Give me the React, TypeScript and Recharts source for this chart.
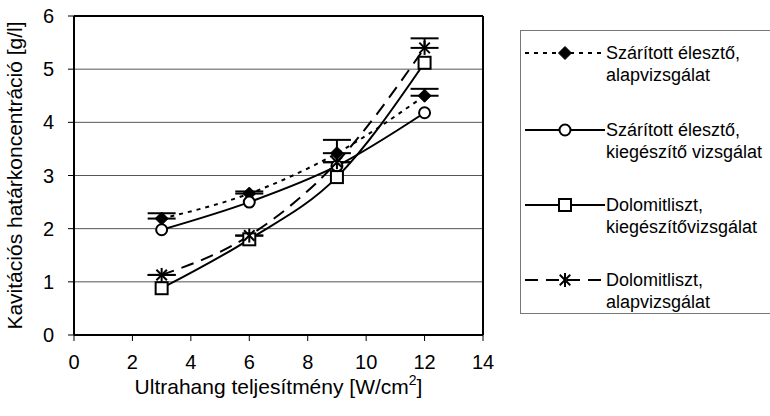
import React from "react";
import {
  LineChart,
  Line,
  XAxis,
  YAxis,
  CartesianGrid,
  ErrorBar,
  ReferenceLine,
  Label,
} from "recharts";

const xValues = [3, 6, 9, 12];
const xTicks = [0, 2, 4, 6, 8, 10, 12, 14];
const yTicks = [0, 1, 2, 3, 4, 5, 6];

const seriesNames = [
  ["Szárított élesztő,", "alapvizsgálat"],
  ["Szárított élesztő,", "kiegészítő vizsgálat"],
  ["Dolomitliszt,", "kiegészítővizsgálat"],
  ["Dolomitliszt,", "alapvizsgálat"],
];

const s1Values = [2.19, 2.66, 3.42, 4.5];
const s1Errors = [0.1, 0.04, 0.25, 0.13];
const s2Values = [1.98, 2.5, 3.18, 4.18];
const s3Values = [0.88, 1.8, 2.97, 5.12];
const s4Values = [1.13, 1.87, 3.25, 5.4];
const s4Errors = [0, 0, 0, 0.18];

const xTitle = "Ultrahang teljesítmény [W/cm";
const yTitle = "Kavitációs határkoncentráció [g/l]";

const data = xValues.map((x, i) => ({
  x,
  s1: s1Values[i],
  s1e: [0, s1Errors[i]],
  s2: s2Values[i],
  s3: s3Values[i],
  s4: s4Values[i],
  s4e: [0, s4Errors[i]],
}));

const FONT = "'Liberation Sans', Arial, sans-serif";

type Marker = "diamond" | "circle" | "square" | "star";

const drawMarker = (kind: Marker, cx: number, cy: number, key?: any) => {
  if (kind === "diamond") {
    const s = 6.5;
    return (
      <path
        key={key}
        d={`M${cx},${cy - s}L${cx + s},${cy}L${cx},${cy + s}L${cx - s},${cy}Z`}
        fill="#000"
        stroke="#000"
        strokeWidth={1}
      />
    );
  }
  if (kind === "circle") {
    return <circle key={key} cx={cx} cy={cy} r={5.5} fill="#fff" stroke="#000" strokeWidth={2} />;
  }
  if (kind === "square") {
    const s = 6;
    return (
      <rect key={key} x={cx - s} y={cy - s} width={2 * s} height={2 * s} fill="#fff" stroke="#000" strokeWidth={2} />
    );
  }
  const r = 7;
  const d = r * 0.75;
  return (
    <g key={key} stroke="#000" strokeWidth={2}>
      <line x1={cx - d} y1={cy - d} x2={cx + d} y2={cy + d} />
      <line x1={cx - d} y1={cy + d} x2={cx + d} y2={cy - d} />
      <line x1={cx} y1={cy - r} x2={cx} y2={cy + r} />
    </g>
  );
};

const dotFor = (kind: Marker) => (props: any) => {
  const { cx, cy, index } = props;
  if (cx == null || cy == null) return <g key={`n${index}`} />;
  return drawMarker(kind, cx, cy, `${kind}${index}`);
};

const seriesStyles: { key: string; marker: Marker; dash?: string; width: number }[] = [
  { key: "s1", marker: "diamond", dash: "4 5", width: 2 },
  { key: "s2", marker: "circle", width: 2 },
  { key: "s3", marker: "square", width: 2 },
  { key: "s4", marker: "star", dash: "13 8", width: 2 },
];

const LegendBox = () => {
  const rowCenters = [22, 99, 174, 249];
  return (
    <div
      style={{
        position: "absolute",
        left: 520,
        top: 30,
        width: 252,
        height: 284,
        border: "1px solid #777",
        boxSizing: "border-box",
        background: "#fff",
        fontFamily: FONT,
        fontSize: 18,
        color: "#000",
      }}
    >
      {seriesStyles.map((s, i) => (
        <div key={s.key} style={{ position: "absolute", left: 0, top: rowCenters[i] - 11 }}>
          <svg width={84} height={22} style={{ position: "absolute", left: 4, top: 0 }}>
            <line x1={0} y1={11} x2={80} y2={11} stroke="#000" strokeWidth={2} strokeDasharray={s.dash} />
            {drawMarker(s.marker, 40, 11)}
          </svg>
          <div
            style={{
              position: "absolute",
              left: 85,
              top: 0,
              lineHeight: "22px",
              whiteSpace: "nowrap",
            }}
          >
            {seriesNames[i][0]}
            <br />
            {seriesNames[i][1]}
          </div>
        </div>
      ))}
    </div>
  );
};

export default function App() {
  return (
    <div style={{ position: "absolute", left: 0, top: 0, width: 770, height: 416, background: "#fff" }}>
      <LineChart
        width={770}
        height={416}
        data={data}
        margin={{ top: 16, right: 287, left: 0, bottom: 0 }}
        style={{ fontFamily: FONT }}
      >
        <CartesianGrid horizontal vertical={false} stroke="#555" strokeWidth={1} />
        <XAxis
          type="number"
          dataKey="x"
          domain={[0, 14]}
          ticks={xTicks}
          height={81}
          tickSize={6}
          tickMargin={14}
          axisLine={{ stroke: "#000", strokeWidth: 2 }}
          tickLine={{ stroke: "#000", strokeWidth: 1 }}
          tick={{ fill: "#000", fontSize: 20, fontFamily: FONT }}
          interval={0}
        >
          <Label
            content={(p: any) => {
              const vb = p.viewBox || {};
              const cx = vb.x + vb.width / 2;
              return (
                <text x={cx} y={394} textAnchor="middle" fontSize={21} fontFamily={FONT} fill="#000">
                  {xTitle}
                  <tspan fontSize={14} dy={-9}>2</tspan>
                  <tspan dy={9}>]</tspan>
                </text>
              );
            }}
          />
        </XAxis>
        <YAxis
          type="number"
          domain={[0, 6]}
          ticks={yTicks}
          width={74}
          tickSize={6}
          tickMargin={14}
          axisLine={{ stroke: "#000", strokeWidth: 2 }}
          tickLine={{ stroke: "#000", strokeWidth: 1 }}
          tick={{ fill: "#000", fontSize: 20, fontFamily: FONT }}
          interval={0}
        >
          <Label
            content={(p: any) => {
              const vb = p.viewBox || {};
              const cy = vb.y + vb.height / 2;
              return (
                <text
                  x={22}
                  y={cy}
                  transform={`rotate(-90 22 ${cy})`}
                  textAnchor="middle"
                  fontSize={21}
                  fontFamily={FONT}
                  fill="#000"
                >
                  {yTitle}
                </text>
              );
            }}
          />
        </YAxis>
        <ReferenceLine y={6} stroke="#000" strokeWidth={2} />
        <ReferenceLine x={14} stroke="#000" strokeWidth={2} />
        <Line
          dataKey="s1"
          type="monotone"
          stroke="#000"
          strokeWidth={2}
          strokeDasharray="4 5"
          dot={dotFor("diamond")}
          activeDot={false}
          isAnimationActive={false}
        >
          <ErrorBar dataKey="s1e" direction="y" width={14} stroke="#000" strokeWidth={2} />
        </Line>
        <Line
          dataKey="s2"
          type="monotone"
          stroke="#000"
          strokeWidth={2}
          dot={dotFor("circle")}
          activeDot={false}
          isAnimationActive={false}
        />
        <Line
          dataKey="s3"
          type="monotone"
          stroke="#000"
          strokeWidth={2}
          dot={dotFor("square")}
          activeDot={false}
          isAnimationActive={false}
        />
        <Line
          dataKey="s4"
          type="monotone"
          stroke="#000"
          strokeWidth={2}
          strokeDasharray="13 8"
          dot={dotFor("star")}
          activeDot={false}
          isAnimationActive={false}
        >
          <ErrorBar dataKey="s4e" direction="y" width={14} stroke="#000" strokeWidth={2} />
        </Line>
      </LineChart>
      <LegendBox />
    </div>
  );
}
